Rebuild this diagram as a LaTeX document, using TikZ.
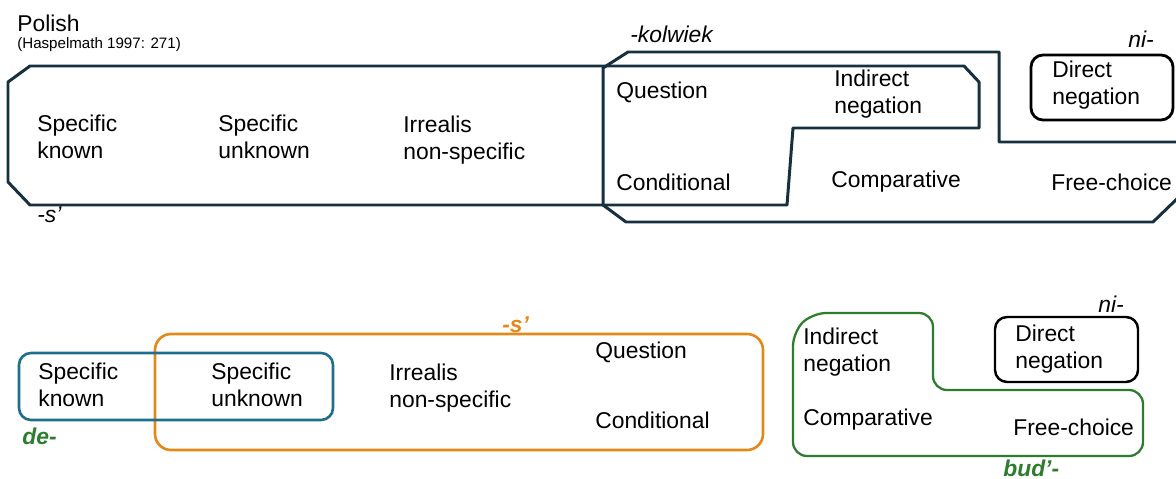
\documentclass[tikz,border=0pt]{standalone}
\usepackage{fontspec}
\setmainfont{Liberation Sans}
\definecolor{navy}{HTML}{17303F}
\definecolor{tealb}{HTML}{1F6E8C}
\definecolor{orng}{HTML}{E3891A}
\definecolor{grn}{HTML}{2E7D2E}
\tikzset{
  lbl/.style={anchor=west,inner sep=0pt,align=left,font=\fontsize{13}{15.5}\selectfont},
  mrk/.style={anchor=west,inner sep=0pt,font=\fontsize{13}{15.5}\selectfont\itshape},
  bmrk/.style={mrk,font=\fontsize{13}{15.5}\selectfont\bfseries\itshape},
  navyline/.style={draw=navy,line width=1.7pt,line join=round},
  dnbox/.style={draw=black,line width=1.6pt,rounded corners=0.24cm},
}
\begin{document}
\begin{tikzpicture}[x=0.02cm,y=-0.02cm]
\useasboundingbox (0,0) rectangle (1176,479);
%\draw[step=50,gray,very thin] (0,0) grid (1176,479); %background grid

% ---- upper map
\node[lbl] (pol) at (17,23) {Polish};
\node[lbl,font=\fontsize{8.6}{10}\selectfont] (hasp) at (17,45) {(Haspelmath 1997: 271)};

\draw[navyline] (8,82) -- (30,66) -- (964,66) -- (979,82) -- (979,128) -- (793,128)
  -- (787,205) -- (30,205) -- (8,182) -- cycle; %-s'
\draw[navyline] (603,68) -- (628,52) -- (999,52) -- (999,142) -- (1182,142) -- (1182,194)
  -- (1153,222) -- (626,222) -- (603,205) -- cycle; %-kolwiek
\draw[dnbox] (1031,55) rectangle (1173,120); %ni-

\node[mrk] (kol) at (630,34) {-kolwiek};
\node[mrk] (ni1) at (1128,39) {ni-};
\node[mrk] (s1) at (37,215) {-s'};

\node[lbl] (sk1) at (37,137) {Specific\\known};
\node[lbl] (su1) at (218,137) {Specific\\unknown};
\node[lbl] (ir1) at (403,140) {Irrealis\\non-specific};
\node[lbl] (qu1) at (616,92) {Question};
\node[lbl] (in1) at (834,94) {Indirect\\negation};
\node[lbl] (dn1) at (1052,85) {Direct\\negation};
\node[lbl] (co1) at (616,182) {Conditional};
\node[lbl] (cp1) at (831,182) {Comparative};
\node[lbl] (fc1) at (1051,182) {Free-choice};

% ---- lower map
\draw[orng,line width=1.5pt,rounded corners=0.32cm] (155,334) rectangle (763,450); %-s'
\draw[tealb,line width=1.5pt,rounded corners=0.24cm] (19,353) rectangle (333,420); %de-
\draw[grn,line width=1.3pt,rounded corners=0.28cm] (793,332) -- (812,313) -- (933,313)
  -- (933,390) -- (1143,390) -- (1143,456) -- (793,456) -- cycle; %bud'-
\draw[dnbox,line width=1.4pt] (995,317) rectangle (1138,382); %ni-

\node[bmrk,text=orng] (s2) at (502,325) {-s'};
\node[bmrk,text=grn] (de) at (22,436) {de-};
\node[bmrk,text=grn] (bud) at (1003,468) {bud'-};
\node[mrk] (ni2) at (1098,304) {ni-};

\node[lbl] (sk2) at (38,385) {Specific\\known};
\node[lbl] (su2) at (211,385) {Specific\\unknown};
\node[lbl] (ir2) at (389,388) {Irrealis\\non-specific};
\node[lbl] (qu2) at (595,352) {Question};
\node[lbl] (co2) at (595,420) {Conditional};
\node[lbl] (in2) at (803,352) {Indirect\\negation};
\node[lbl] (dn2) at (1015,349) {Direct\\negation};
\node[lbl] (cp2) at (803,420) {Comparative};
\node[lbl] (fc2) at (1013,427) {Free-choice};
\end{tikzpicture}
\end{document}
